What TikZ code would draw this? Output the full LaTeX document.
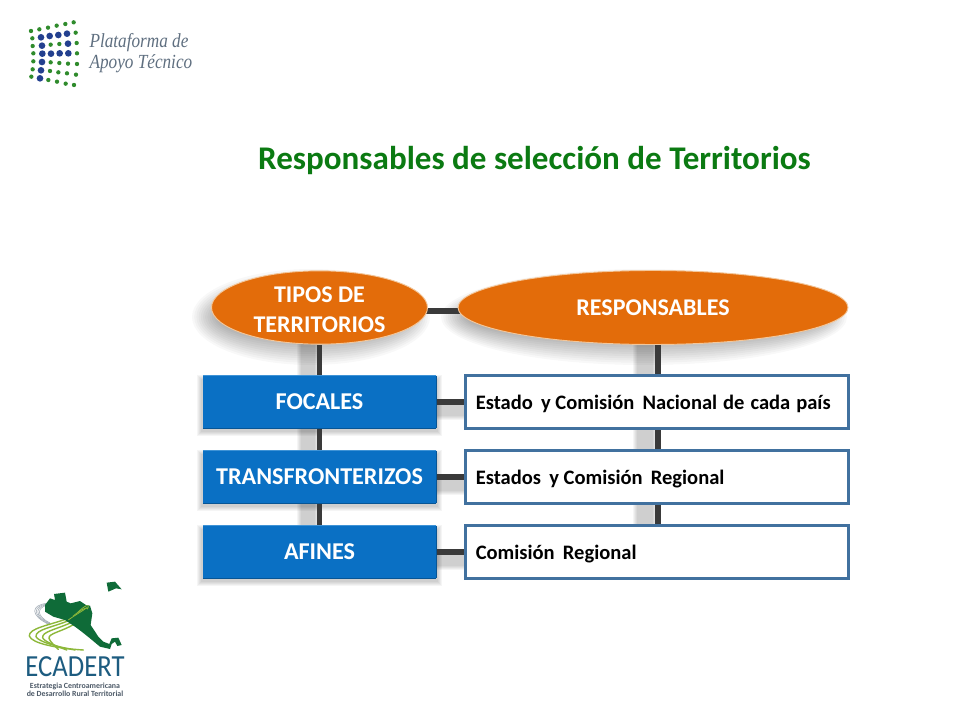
\documentclass[tikz,border=0pt]{standalone}
\usepackage{fontspec}
\setmainfont{Carlito}
\newfontfamily\logofont{Liberation Serif}
\usetikzlibrary{shapes.geometric}
\pgfdeclarelayer{shadowlayer}
\pgfdeclarelayer{linklayer}
\pgfsetlayers{shadowlayer,linklayer,main}
\definecolor{titlegreen}{HTML}{0B7A12}
\definecolor{orangefill}{HTML}{E36C0A}
\definecolor{orangeedge}{HTML}{F3C79B}
\definecolor{bluefill}{HTML}{0A70C4}
\definecolor{bluelight}{HTML}{3F93D6}
\definecolor{bluedark}{HTML}{075595}
\definecolor{boxedge}{HTML}{41719F}
\definecolor{linkcol}{HTML}{3A3A3A}
\definecolor{logoblue}{HTML}{23408F}
\definecolor{logogreen}{HTML}{2F8B2C}
\definecolor{logotext}{HTML}{5F6F80}
\definecolor{mapgreen}{HTML}{0F6B38}
\definecolor{stripegreen}{HTML}{8DB83A}
\definecolor{ecablue}{HTML}{1D5C80}
\newcommand{\softblob}[4]{%
  \foreach \k in {0,1,...,11}{
    \fill[black,opacity=.028] (#1,#2) ellipse [x radius={#3+13-2.2*\k},y radius={#4+13-2.2*\k}];
  }}
\newcommand{\softbar}[4]{%
  \foreach \k in {0,1,...,4}{
    \fill[black,opacity=.04] ({#1-5+\k},{#2-5+\k}) rectangle ({#3+5-\k},{#4+5-\k});
  }}
\tikzset{
  x=0.75pt,y=-0.75pt,
  ellnode/.style={ellipse,fill=orangefill,draw=orangeedge,line width=.7pt,inner sep=0pt,
    text=white,font=\bfseries\fontsize{18}{22}\selectfont,align=center},
  leftbox/.style={rectangle,fill=bluefill,inner sep=0pt,
    minimum width=174.5pt,minimum height=39pt,text=white,font=\bfseries\fontsize{18.1}{20}\selectfont},
  toplight/.style={draw=bluelight,line width=.9pt},
  botdark/.style={draw=bluedark,line width=.9pt},
  rightbox/.style={rectangle,fill=white,draw=boxedge,line width=1.8pt,inner sep=0pt,
    minimum width=287pt,minimum height=39.5pt},
  rightlabel/.style={anchor=west,inner sep=0pt,font=\bfseries\fontsize{15.4}{18}\selectfont},
  link/.style={draw=linkcol,line width=4.4pt},
  titlenode/.style={text=titlegreen,inner sep=0pt,font=\bfseries\fontsize{24.8}{30}\selectfont},
  bigdot/.style={fill=logoblue},
  smalldot/.style={fill=logogreen},
  stripe/.style={draw=stripegreen,line cap=round,line width=1.05pt},
  thinstripe/.style={draw=logotext!60,line width=.4pt},
}
\newcommand{\wsp}{\hspace{.4em}}
\newcommand{\nsp}{\hspace{1pt}}
\begin{document}
\begin{tikzpicture}
\useasboundingbox (0,0) rectangle (960,720);
\begin{pgfonlayer}{shadowlayer}
\fill[white] (0,0) rectangle (960,720);
\softblob{311}{317}{106}{35}
\softblob{644}{317}{190}{35}
\softbar{202}{380}{437}{431}
\softbar{202}{455}{437}{506}
\softbar{202}{530}{437}{581}
\softbar{302}{345}{314}{376}
\softbar{302}{430}{314}{451}
\softbar{302}{504}{314}{526}
\softbar{638}{345}{652}{375}
\softbar{638}{430}{652}{450}
\softbar{638}{504}{652}{525}
\softbar{437}{406}{465}{415}
\softbar{437}{481}{465}{490}
\softbar{437}{556}{465}{565}
\end{pgfonlayer}

\node[ellnode,minimum width=162pt,minimum height=55pt] (tipos) at (319.5,307.5) {\rule{0pt}{15pt}TIPOS DE\\TERRITORIOS};
\node[ellnode,minimum width=292.5pt,minimum height=55.5pt] (resp) at (653,307.5) {RESPONSABLES};
\node[leftbox] (focales) at (319.5,402) {FOCALES};
\node[leftbox] (trans) at (319.5,477) {TRANSFRONTERIZOS};
\node[leftbox] (afines) at (319.5,552) {AFINES};
\foreach \n in {focales,trans,afines}{
  \draw[toplight] (\n.north west) -- (\n.north east);
  \draw[botdark] (\n.south west) -- (\n.south east);
  \draw[botdark] (\n.north east) -- (\n.south east);
}
\node[rightbox] (r1) at (657,402) {};
\node[rightbox] (r2) at (657,477) {};
\node[rightbox] (r3) at (657,552) {};
\node[rightlabel] (r1T) at (475.5,404) {Estado\wsp y Comisión\wsp Nacional \nsp de \nsp cada \nsp país};
\node[rightlabel] (r2T) at (475.5,479) {Estados\wsp y Comisión\wsp Regional};
\node[rightlabel] (r3T) at (475.5,554) {Comisión\wsp Regional};
\coordinate (ta) at (420,311);
\coordinate (tb) at (470,311);
\coordinate (rtop) at (658,340);

\begin{pgfonlayer}{linklayer}
\draw[link] (ta) -- (tb);
\draw[link] (tipos.south) -- (focales.north);
\draw[link] (focales.south) -- (trans.north);
\draw[link] (trans.south) -- (afines.north);
\draw[link] (rtop) -- (rtop |- r1.north);
\draw[link] (rtop |- r1.south) -- (rtop |- r2.north);
\draw[link] (rtop |- r2.south) -- (rtop |- r3.north);
\draw[link] (focales.east) -- (r1.west);
\draw[link] (trans.east) -- (r2.west);
\draw[link] (afines.east) -- (r3.west);
\end{pgfonlayer}

\node[titlenode] (title) at (534.5,161) {Responsables de selección de Territorios};

% top logo
\begin{scope}[x=0.25pt,y=-0.25pt]
  \foreach \p/\q in {123/112,149/108,175/105,201/101,126/137,204/131,127/161,153/161,179/160,205/160,126/186,123/211,120/235}
    \fill[bigdot] (\p,\q) circle [radius=10];
  \foreach \p/\q in {93/93,118/88,144/83,170/77,196/72,221/67,227/98,230/129,231/160,231/192,228/224,222/255,197/251,171/245,145/240,94/230,98/208,100/184,100/160,98/138,97/115,152/134,178/132,152/187,178/189,204/191,150/213,175/217,201/220}
    \fill[smalldot] (\p,\q) circle [radius=6.5];
  \node[anchor=west,inner sep=0pt,text=logotext,align=left,xscale=.86,font=\logofont\itshape\fontsize{15}{15.75}\selectfont] (logotxt) at (268,160) {Plataforma de\\Apoyo Técnico};
\end{scope}

% bottom logo
\begin{scope}[shift={(0,570)},x=0.25pt,y=-0.25pt]
  \foreach \d in {0,7,14,21}{
    \draw[thinstripe] (140,100+\d*.3) .. controls (95+\d,105+\d*.3) and (86+\d*.8,135) .. (150,165-\d*.3);
  }
  \draw[stripe] (205,145) .. controls (150,165) and (85,175) .. (88,198) .. controls (95,220) and (170,235) .. (250,240);
  \draw[stripe] (210,150) .. controls (160,172) and (105,178) .. (108,200) .. controls (115,215) and (170,230) .. (225,240);
  \draw[stripe] (215,157) .. controls (170,178) and (125,185) .. (128,203) .. controls (132,215) and (170,228) .. (200,240);
  \draw[stripe] (222,163) .. controls (185,185) and (145,190) .. (147,205) .. controls (150,215) and (165,228) .. (175,238);
  \fill[mapgreen] (135,105) -- (150,85) -- (165,90) -- (162,72) -- (195,68) -- (200,95) -- (212,100) -- (240,93) -- (258,105) -- (270,107) -- (277,130) -- (272,165) -- (295,200) -- (310,215) -- (328,222) -- (335,205) -- (355,203) -- (365,225) -- (352,228) -- (345,215) -- (335,222) -- (330,237) -- (300,230) -- (270,205) -- (245,185) -- (225,170) -- (195,150) -- (160,140) -- (135,125) -- cycle;
  \fill[mapgreen] (320,38) -- (345,35) -- (365,58) -- (348,55) -- (325,65) -- cycle;
  \foreach \d in {0,14,28}{
    \draw[stripegreen,line width=.6pt] (205+\d,150-\d*.8) .. controls (225+\d,135-\d) and (245+\d,125-\d) .. (262,112+\d*.2);
  }
\end{scope}
\node[inner sep=0pt,text=ecablue,xscale=.87,font=\fontsize{23}{24}\selectfont] (ecadert) at (75,666.5) {ECADERT};
\node[inner sep=0pt,text=logotext!80!black,align=center,font=\bfseries\fontsize{5.9}{6}\selectfont] (ecasub) at (75,689.5) {Estrategia Centroamericana\\de Desarrollo Rural Territorial};
\end{tikzpicture}
\end{document}
